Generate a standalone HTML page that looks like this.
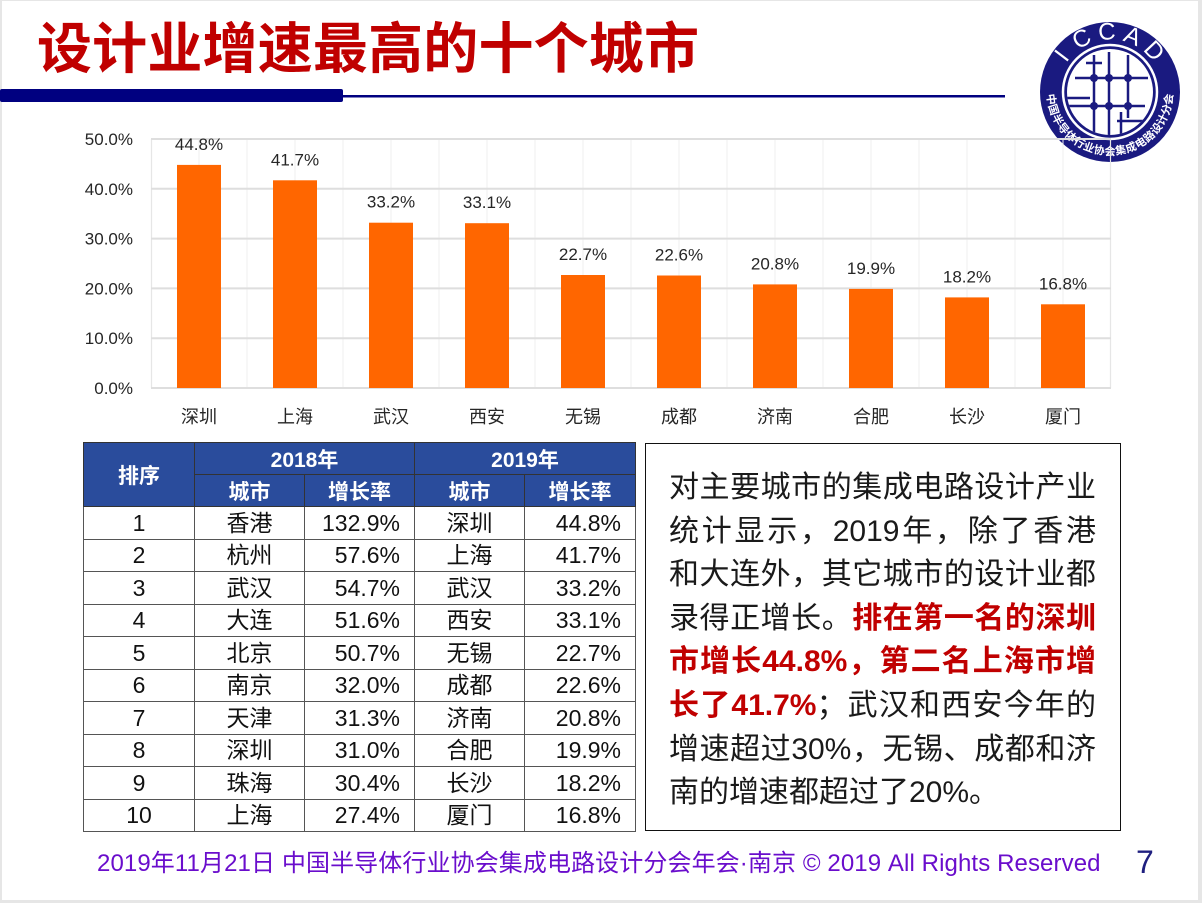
<!DOCTYPE html>
<html><head><meta charset="utf-8">
<style>
html,body{margin:0;padding:0;}
body{width:1202px;height:903px;background:#e6e6e6;position:relative;overflow:hidden;font-family:"Liberation Sans","Noto Sans CJK SC",sans-serif;}
#slide{position:absolute;left:2px;top:1px;width:1196px;height:899px;background:#fff;}
svg{position:absolute;left:0;top:0;}
table{position:absolute;left:83px;top:442px;width:552px;border-collapse:collapse;table-layout:fixed;}
td,th{border:1px solid #555;padding:0;text-align:center;font-family:"Liberation Sans","Noto Sans CJK SC",sans-serif;}
th{background:#2A4C9C;color:#fff;font-weight:bold;font-size:21px;border-color:#333;}
tr.h1 th{height:31px;}
tr.h2 th{height:31px;}
td{height:31.5px;font-size:23px;color:#111;line-height:30px;}
td.r{text-align:right;padding-right:14px;}
#para{position:absolute;left:645px;top:443px;width:474px;height:386px;border:1.5px solid #111;}
#ptext{position:absolute;left:669px;top:466px;width:427px;font-size:30px;line-height:43.6px;color:#1a1a1a;font-family:"Liberation Sans","Noto Sans CJK SC",sans-serif;}
#ptext div{text-align:justify;text-align-last:justify;height:43.6px;}
#ptext div.last{text-align:left;text-align-last:left;}
#ptext b{color:#C00000;font-weight:bold;}
#footer{position:absolute;left:97px;top:849px;font-size:24px;color:#6A0DCC;white-space:nowrap;line-height:30px;letter-spacing:0.1px;font-family:"Liberation Sans","Noto Sans CJK SC",sans-serif;}
#pnum{position:absolute;left:1136px;top:844px;font-size:32px;color:#1F1F7F;line-height:36px;font-family:"Liberation Sans",sans-serif;}
</style></head>
<body>
<div id="slide"></div>
<svg width="1202" height="903" viewBox="0 0 1202 903" xmlns="http://www.w3.org/2000/svg">
  <text x="37" y="68" font-size="55" font-weight="bold" fill="#C00000" textLength="662" lengthAdjust="spacing" font-family="Liberation Sans, Noto Sans CJK SC, sans-serif">设计业增速最高的十个城市</text>
  <rect x="0" y="89" width="343" height="13" fill="#000080" rx="2"/>
  <rect x="340" y="95" width="665" height="2.5" fill="#000080"/>
  <defs><clipPath id="inner"><circle cx="1110" cy="92" r="43"/></clipPath></defs>
  <circle cx="1110" cy="92" r="70" fill="#1a1a80"/>
  <circle cx="1110" cy="92" r="47" fill="none" stroke="#fff" stroke-width="2.5"/>
  <circle cx="1110" cy="92" r="43" fill="#fff"/>
  <g clip-path="url(#inner)" stroke="#1a1a80" stroke-width="2.5" fill="none">
    <line x1="1075" y1="78" x2="1148" y2="78"/>
    <line x1="1066" y1="106" x2="1145" y2="106"/>
    <line x1="1086" y1="63" x2="1102" y2="63"/>
    <line x1="1066" y1="98" x2="1090" y2="98"/>
    <line x1="1117" y1="121" x2="1146" y2="121"/>
    <line x1="1094" y1="55" x2="1094" y2="132"/>
    <line x1="1109" y1="52" x2="1109" y2="135"/>
    <line x1="1128" y1="55" x2="1128" y2="118"/>
    <line x1="1121" y1="112" x2="1121" y2="135"/>
  </g>
  <g fill="#1a1a80">
    <circle cx="1094" cy="78" r="4"/><circle cx="1109" cy="78" r="4"/><circle cx="1128" cy="78" r="4"/>
    <circle cx="1094" cy="106" r="4"/><circle cx="1109" cy="106" r="4"/><circle cx="1128" cy="106" r="4"/>
  </g>
  <g fill="#fff" font-size="24" text-anchor="middle" dominant-baseline="central" font-family="Liberation Sans, sans-serif">
    <text x="1062.1" y="55.9" transform="rotate(-53 1062.1 55.9)">I</text>
    <text x="1081.8" y="39.0" transform="rotate(-28 1081.8 39.0)">C</text>
    <text x="1106.9" y="32.1" transform="rotate(-3 1106.9 32.1)">C</text>
    <text x="1132.5" y="36.4" transform="rotate(22 1132.5 36.4)">A</text>
    <text x="1153.9" y="51.1" transform="rotate(47 1153.9 51.1)">D</text>
  </g>
  <g fill="#fff" font-size="11" font-weight="bold" text-anchor="middle" dominant-baseline="central" font-family="Noto Sans CJK SC, sans-serif">
    <text x="1051.4" y="99.2" transform="rotate(83 1051.4 99.2)">中</text>
    <text x="1053.7" y="109.6" transform="rotate(72.6 1053.7 109.6)">国</text>
    <text x="1057.8" y="119.5" transform="rotate(62.25 1057.8 119.5)">半</text>
    <text x="1063.6" y="128.4" transform="rotate(51.9 1063.6 128.4)">导</text>
    <text x="1070.9" y="136.2" transform="rotate(41.5 1070.9 136.2)">体</text>
    <text x="1079.5" y="142.5" transform="rotate(31.1 1079.5 142.5)">行</text>
    <text x="1089.1" y="147.2" transform="rotate(20.75 1089.1 147.2)">业</text>
    <text x="1099.4" y="150.0" transform="rotate(10.4 1099.4 150.0)">协</text>
    <text x="1110" y="151" >会</text>
    <text x="1120.6" y="150.0" transform="rotate(-10.4 1120.6 150.0)">集</text>
    <text x="1130.9" y="147.2" transform="rotate(-20.75 1130.9 147.2)">成</text>
    <text x="1140.5" y="142.5" transform="rotate(-31.1 1140.5 142.5)">电</text>
    <text x="1149.1" y="136.2" transform="rotate(-41.5 1149.1 136.2)">路</text>
    <text x="1156.4" y="128.4" transform="rotate(-51.9 1156.4 128.4)">设</text>
    <text x="1162.2" y="119.5" transform="rotate(-62.25 1162.2 119.5)">计</text>
    <text x="1166.3" y="109.6" transform="rotate(-72.6 1166.3 109.6)">分</text>
    <text x="1168.6" y="99.2" transform="rotate(-83 1168.6 99.2)">会</text>
  </g>

  <g stroke="#efefef" stroke-width="1">
    <line x1="199" y1="139" x2="199" y2="388"/><line x1="247" y1="139" x2="247" y2="388"/>
    <line x1="295" y1="139" x2="295" y2="388"/><line x1="343" y1="139" x2="343" y2="388"/>
    <line x1="391" y1="139" x2="391" y2="388"/><line x1="439" y1="139" x2="439" y2="388"/>
    <line x1="487" y1="139" x2="487" y2="388"/><line x1="535" y1="139" x2="535" y2="388"/>
    <line x1="583" y1="139" x2="583" y2="388"/><line x1="631" y1="139" x2="631" y2="388"/>
    <line x1="679" y1="139" x2="679" y2="388"/><line x1="727" y1="139" x2="727" y2="388"/>
    <line x1="775" y1="139" x2="775" y2="388"/><line x1="823" y1="139" x2="823" y2="388"/>
    <line x1="871" y1="139" x2="871" y2="388"/><line x1="919" y1="139" x2="919" y2="388"/>
    <line x1="967" y1="139" x2="967" y2="388"/><line x1="1015" y1="139" x2="1015" y2="388"/>
    <line x1="1063" y1="139" x2="1063" y2="388"/>
  </g>
  <g stroke="#e6e6e6" stroke-width="1.2">
    <line x1="151.5" y1="139" x2="151.5" y2="388"/><line x1="1110.5" y1="139" x2="1110.5" y2="388"/>
  </g>
  <g stroke="#dedede" stroke-width="2">
    <line x1="151" y1="139" x2="1111" y2="139"/>
    <line x1="151" y1="188.8" x2="1111" y2="188.8"/>
    <line x1="151" y1="238.6" x2="1111" y2="238.6"/>
    <line x1="151" y1="288.4" x2="1111" y2="288.4"/>
    <line x1="151" y1="338.2" x2="1111" y2="338.2"/>
    <line x1="151" y1="388" x2="1111" y2="388"/>
  </g>
  <g fill="#FF6600">
    <rect x="177" y="164.9" width="44" height="223.1"/>
    <rect x="273" y="180.3" width="44" height="207.7"/>
    <rect x="369" y="222.7" width="44" height="165.3"/>
    <rect x="465" y="223.2" width="44" height="164.8"/>
    <rect x="561" y="275.0" width="44" height="113.0"/>
    <rect x="657" y="275.5" width="44" height="112.5"/>
    <rect x="753" y="284.4" width="44" height="103.6"/>
    <rect x="849" y="288.9" width="44" height="99.1"/>
    <rect x="945" y="297.4" width="44" height="90.6"/>
    <rect x="1041" y="304.3" width="44" height="83.7"/>
  </g>
  <g font-size="17" fill="#262626" text-anchor="end" font-family="Liberation Sans, sans-serif">
    <text x="133" y="145">50.0%</text>
    <text x="133" y="194.8">40.0%</text>
    <text x="133" y="244.6">30.0%</text>
    <text x="133" y="294.4">20.0%</text>
    <text x="133" y="344.2">10.0%</text>
    <text x="133" y="394">0.0%</text>
  </g>
  <g font-size="17" fill="#262626" text-anchor="middle" font-family="Liberation Sans, sans-serif">
    <text x="199" y="150">44.8%</text>
    <text x="295" y="165.3">41.7%</text>
    <text x="391" y="207.7">33.2%</text>
    <text x="487" y="208.2">33.1%</text>
    <text x="583" y="260">22.7%</text>
    <text x="679" y="260.5">22.6%</text>
    <text x="775" y="269.4">20.8%</text>
    <text x="871" y="273.9">19.9%</text>
    <text x="967" y="282.4">18.2%</text>
    <text x="1063" y="289.3">16.8%</text>
  </g>
  <g font-size="18" fill="#262626" text-anchor="middle" font-family="Liberation Sans, Noto Sans CJK SC, sans-serif">
    <text x="199" y="423">深圳</text>
    <text x="295" y="423">上海</text>
    <text x="391" y="423">武汉</text>
    <text x="487" y="423">西安</text>
    <text x="583" y="423">无锡</text>
    <text x="679" y="423">成都</text>
    <text x="775" y="423">济南</text>
    <text x="871" y="423">合肥</text>
    <text x="967" y="423">长沙</text>
    <text x="1063" y="423">厦门</text>
  </g>
</svg>

<table>
  <colgroup><col style="width:111px"><col style="width:110px"><col style="width:110px"><col style="width:110px"><col style="width:111px"></colgroup>
  <tr class="h1"><th rowspan="2">排序</th><th colspan="2">2018年</th><th colspan="2">2019年</th></tr>
  <tr class="h2"><th>城市</th><th>增长率</th><th>城市</th><th>增长率</th></tr>
  <tr><td>1</td><td>香港</td><td class="r">132.9%</td><td>深圳</td><td class="r">44.8%</td></tr>
  <tr><td>2</td><td>杭州</td><td class="r">57.6%</td><td>上海</td><td class="r">41.7%</td></tr>
  <tr><td>3</td><td>武汉</td><td class="r">54.7%</td><td>武汉</td><td class="r">33.2%</td></tr>
  <tr><td>4</td><td>大连</td><td class="r">51.6%</td><td>西安</td><td class="r">33.1%</td></tr>
  <tr><td>5</td><td>北京</td><td class="r">50.7%</td><td>无锡</td><td class="r">22.7%</td></tr>
  <tr><td>6</td><td>南京</td><td class="r">32.0%</td><td>成都</td><td class="r">22.6%</td></tr>
  <tr><td>7</td><td>天津</td><td class="r">31.3%</td><td>济南</td><td class="r">20.8%</td></tr>
  <tr><td>8</td><td>深圳</td><td class="r">31.0%</td><td>合肥</td><td class="r">19.9%</td></tr>
  <tr><td>9</td><td>珠海</td><td class="r">30.4%</td><td>长沙</td><td class="r">18.2%</td></tr>
  <tr><td>10</td><td>上海</td><td class="r">27.4%</td><td>厦门</td><td class="r">16.8%</td></tr>
</table>

<div id="para"></div>
<div id="ptext">
  <div>对主要城市的集成电路设计产业</div>
  <div>统计显示，2019年，除了香港</div>
  <div>和大连外，其它城市的设计业都</div>
  <div>录得正增长。<b>排在第一名的深圳</b></div>
  <div><b>市增长44.8%，第二名上海市增</b></div>
  <div><b>长了41.7%</b>；武汉和西安今年的</div>
  <div>增速超过30%，无锡、成都和济</div>
  <div class="last">南的增速都超过了20%。</div>
</div>

<div id="footer">2019年11月21日 中国半导体行业协会集成电路设计分会年会·南京 © 2019 All Rights Reserved</div>
<div id="pnum">7</div>
</body></html>
